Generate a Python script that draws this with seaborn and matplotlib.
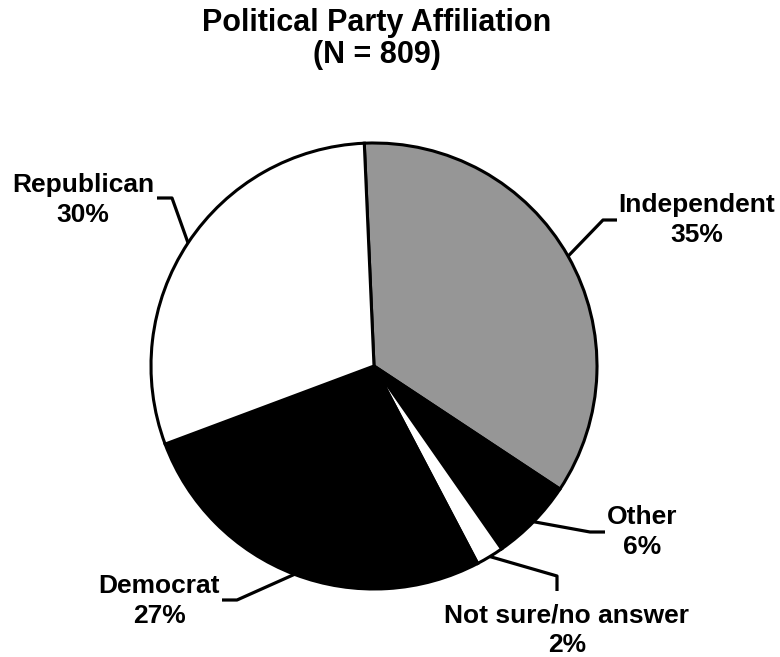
import numpy as np
import matplotlib.pyplot as plt
import seaborn as sns

categories = ['Independent', 'Other', 'Not sure/no answer', 'Democrat', 'Republican']
shares = [35, 6, 2, 27, 30]
pct_labels = ['35%', '6%', '2%', '27%', '30%']
fills = ['#969696', 'black', 'white', 'black', 'white']

# label layout in pixel space (x from left, y from top)
text_pos = {
    'Independent': (697, 220),
    'Other': (642, 532),
    'Not sure/no answer': (567, 630),
    'Democrat': (159, 601),
    'Republican': (83, 200),
}
elbows = {
    'Independent': [(603, 220), (617, 220)],
    'Other': [(590, 532), (605, 532)],
    'Not sure/no answer': [(557, 576), (557, 591)],
    'Democrat': [(237, 600), (222, 600)],
    'Republican': [(172, 198), (157, 198)],
}

W, H = 780, 657
cx, cy, r = 374, 366, 223

sns.set_theme(style='white')
plt.rcParams['font.family'] = ['Liberation Sans', 'DejaVu Sans']

fig = plt.figure(figsize=(W / 100, H / 100), dpi=100)
ax = fig.add_axes([0, 0, 1, 1])

wedges, _ = ax.pie(shares, colors=fills, startangle=92.5, counterclock=False,
                   center=(cx, H - cy), radius=r,
                   wedgeprops=dict(edgecolor='black', linewidth=2.2))
ax.set_xlim(0, W)
ax.set_ylim(0, H)
ax.set_aspect('equal')
ax.axis('off')

for w, name, pct in zip(wedges, categories, pct_labels):
    mid = np.deg2rad((w.theta1 + w.theta2) / 2)
    x0 = cx + r * np.cos(mid)
    y0 = (H - cy) + r * np.sin(mid)
    pts = [(x0, y0)] + [(x, H - y) for x, y in elbows[name]]
    xs, ys = zip(*pts)
    ax.plot(xs, ys, color='black', lw=2.3, solid_capstyle='butt')
    tx, ty = text_pos[name]
    ax.text(tx, H - ty, name + '\n' + pct, ha='center', va='center',
            fontsize=19, fontweight='bold', linespacing=1.3, color='black')

ax.text(W / 2 - 13, H - 39, 'Political Party Affiliation\n(N = 809)',
        ha='center', va='center', fontsize=22, fontweight='bold',
        linespacing=1.05, color='black')

fig.savefig('out.png', dpi=100)
